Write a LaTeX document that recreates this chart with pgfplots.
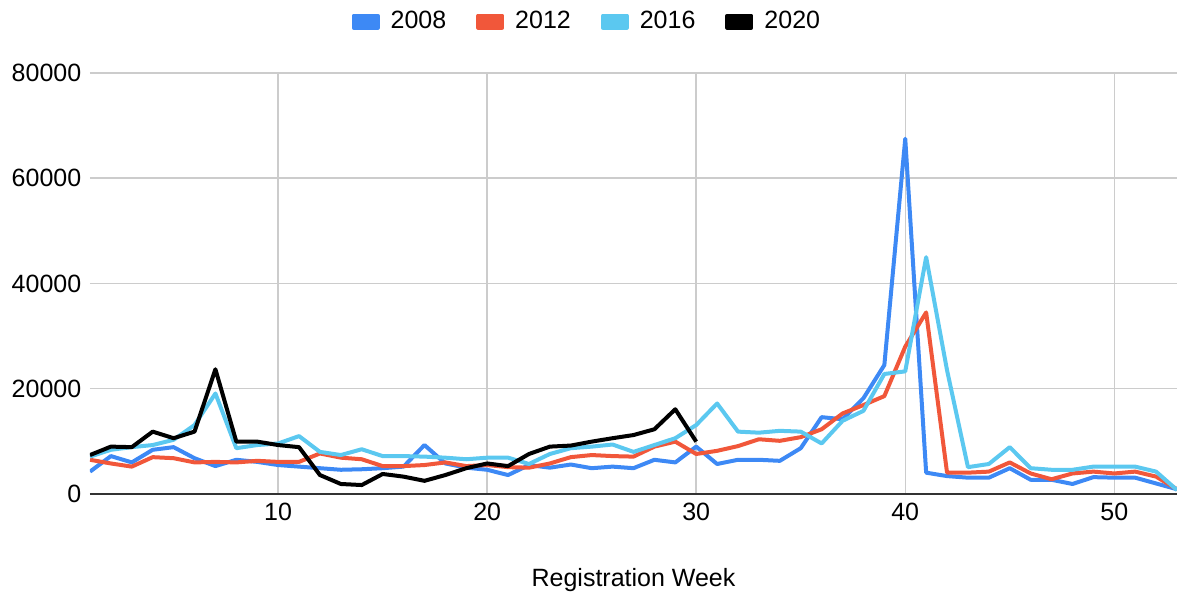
\documentclass[border=0pt]{standalone}
\usepackage{fontspec}
\setmainfont{Liberation Sans}
\usepackage{pgfplots}
\pgfplotsset{compat=1.18}
\definecolor{c08}{HTML}{3D89F5}
\definecolor{c12}{HTML}{F1573A}
\definecolor{c16}{HTML}{5BC8F0}
\definecolor{gridc}{HTML}{CCCCCC}
\begin{document}
\fontsize{12.5}{15}\selectfont
\begin{tikzpicture}
\begin{axis}[
  scale only axis, width=543.5pt, height=210.5pt,
  xmin=1, xmax=53, ymin=0, ymax=80000,
  xtick={10,20,30,40,50}, ytick={0,20000,40000,60000,80000},
  grid=major, major grid style={draw=gridc, line width=0.75pt},
  axis x line*=bottom, axis y line*=left,
  x axis line style={-, draw=black!80, line width=1pt},
  y axis line style={draw=none},
  tick style={draw=none},
  scaled y ticks=false,
  /pgf/number format/.cd, 1000 sep={}, assume math mode=true, /pgfplots/.cd,
  ticklabel style={font=\fontsize{12.5}{15}\selectfont},
  xlabel={Registration Week},
  xlabel style={at={(rel axis cs:0.5,-0.204)}, anchor=center, font=\fontsize{12.5}{15}\selectfont},
  legend columns=4,
  legend style={at={(rel axis cs:0.458,1.122)}, anchor=center, draw=none,
    font=\fontsize{12.5}{15}\selectfont,
    /tikz/every odd column/.append style={column sep=3.5pt},
    /tikz/every even column/.append style={column sep=13pt}},
  legend image code/.code={\fill[#1] (0pt,-3pt) rectangle (12pt,3pt);},
  every axis plot/.append style={line width=2pt, line join=round},
]
% 2008
\addplot[c08] coordinates {
(1,4250) (2,7200) (3,6000) (4,8400) (5,8900) (6,6800) (7,5300) (8,6500) (9,6100) (10,5500)
(11,5200) (12,4900) (13,4600) (14,4700) (15,4900) (16,5200) (17,9300) (18,5800) (19,5000) (20,4600)
(21,3600) (22,5500) (23,5000) (24,5600) (25,4900) (26,5200) (27,4900) (28,6500) (29,6000) (30,9000)
(31,5700) (32,6500) (33,6500) (34,6300) (35,8700) (36,14600) (37,14200) (38,18200) (39,24500) (40,67500)
(41,4050) (42,3400) (43,3100) (44,3100) (45,4900) (46,2700) (47,2700) (48,1900) (49,3200) (50,3100)
(51,3100) (52,2000) (53,900)
};
\addlegendentry{2008}
% 2012
\addplot[c12] coordinates {
(1,6500) (2,5800) (3,5200) (4,7000) (5,6800) (6,6000) (7,6100) (8,6000) (9,6300) (10,6100)
(11,6100) (12,7700) (13,6900) (14,6600) (15,5300) (16,5300) (17,5500) (18,6000) (19,5300) (20,5500)
(21,5100) (22,5000) (23,5800) (24,7000) (25,7400) (26,7200) (27,7100) (28,9000) (29,9950) (30,7600)
(31,8200) (32,9100) (33,10400) (34,10100) (35,10800) (36,12300) (37,15300) (38,16900) (39,18600) (40,28000)
(41,34500) (42,4050) (43,4050) (44,4250) (45,6000) (46,3900) (47,2800) (48,3900) (49,4250) (50,3900)
(51,4250) (52,3300) (53,900)
};
\addlegendentry{2012}
% 2016
\addplot[c16] coordinates {
(1,7100) (2,8400) (3,8900) (4,9300) (5,10300) (6,13100) (7,19100) (8,8700) (9,9300) (10,9600)
(11,11000) (12,8000) (13,7400) (14,8500) (15,7200) (16,7200) (17,7100) (18,6900) (19,6600) (20,6900)
(21,6900) (22,5700) (23,7600) (24,8700) (25,9000) (26,9400) (27,8000) (28,9300) (29,10600) (30,13100)
(31,17200) (32,11850) (33,11650) (34,12000) (35,11850) (36,9600) (37,13900) (38,15800) (39,22800) (40,23300)
(41,45000) (42,23500) (43,5100) (44,5700) (45,8900) (46,4900) (47,4600) (48,4600) (49,5200) (50,5200)
(51,5200) (52,4250) (53,750)
};
\addlegendentry{2016}
% 2020
\addplot[black] coordinates {
(1,7400) (2,9000) (3,8900) (4,11850) (5,10600) (6,11850) (7,23700) (8,9950) (9,9950) (10,9300)
(11,8900) (12,3600) (13,1900) (14,1700) (15,3800) (16,3300) (17,2500) (18,3600) (19,4900) (20,5800)
(21,5300) (22,7600) (23,9000) (24,9200) (25,9950) (26,10600) (27,11200) (28,12300) (29,16100) (30,9950)
};
\addlegendentry{2020}
\end{axis}
\pgfresetboundingbox
\path ([xshift=-45pt, yshift=-51pt]current axis.south west) rectangle ([yshift=36.5pt]current axis.north east);
\end{tikzpicture}
\end{document}
